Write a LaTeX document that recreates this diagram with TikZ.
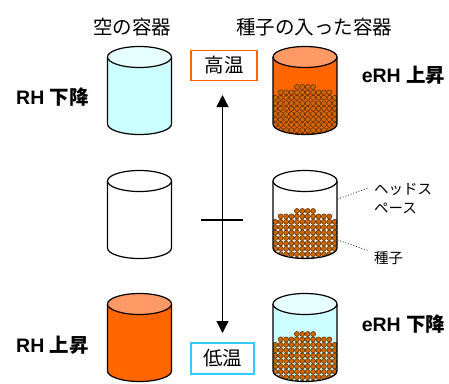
\documentclass[tikz,border=0pt]{standalone}
\usepackage{fontspec}
\setmainfont{Liberation Sans}
\newfontfamily\jp{Noto Sans CJK JP}
\usetikzlibrary{arrows.meta}

\definecolor{paleCyan}{HTML}{CCFFFF}
\definecolor{paleCyanTop}{HTML}{E6FFFF}
\definecolor{hotOrange}{HTML}{FF6600}
\definecolor{hotOrangeTop}{HTML}{FF9966}
\definecolor{seedBrown}{HTML}{CC6600}
\definecolor{seedEdge}{HTML}{4A2400}
\definecolor{coolBlue}{HTML}{33CCFF}

\tikzset{
  outline/.style={draw=black, line width=1.2pt},
  seed/.style={fill=seedBrown, draw=seedEdge, line width=0.45pt},
  heading/.style={font=\jp\fontsize{19.5}{22}\selectfont},
  rhlabel/.style={font=\bfseries\fontsize{19.5}{22}\selectfont},
  tempbox/.style={line width=1.5pt, inner sep=0pt, font=\jp\fontsize{19.5}{22}\selectfont},
  note/.style={font=\jp\fontsize{14.5}{19}\selectfont, align=left, anchor=west, inner sep=0pt},
  leader/.style={dotted, line width=0.8pt},
  axis/.style={line width=1.4pt}
}

% cylinder: #1 centre x, #2 centre y of the top ellipse
\newcommand\cylpath[2]{(#1-32,#2) -- (#1-32,#2+67)
  arc[start angle=180, end angle=0, x radius=32, y radius=10.5] -- (#1+32,#2) -- cycle}
\newcommand\cylbody[3]{\fill[#3] \cylpath{#1}{#2};}
\newcommand\cyledge[3]{%
  \draw[outline] (#1-32,#2) -- (#1-32,#2+67)
    arc[start angle=180, end angle=0, x radius=32, y radius=10.5] -- (#1+32,#2);
  \filldraw[outline, fill=#3] (#1,#2) ellipse[x radius=32, y radius=10.5];}

\newcommand\seedat[2]{\filldraw[seed] (#1,#2) circle[radius=2.55];}
% heap of seeds at the bottom of a cylinder
\newcommand\seedpile[2]{%
  \begin{scope}
    \clip \cylpath{#1}{#2};
    \foreach \k in {-1.5,-0.5,0.5,1.5} {\seedat{#1+\k*5.4}{#2+30}}
    \foreach \k in {-4.5,-3.5,...,4.5} {\seedat{#1+\k*5.4}{#2+35.4}}
    \foreach \r in {2,...,9} {
      \foreach \k in {-5.5,-4.5,...,5.5} {\seedat{#1+\k*5.4}{#2+30+\r*5.4}}}
  \end{scope}}

\begin{document}
\begin{tikzpicture}[x=1pt, y=-1pt]
  \useasboundingbox (0,0) rectangle (449,383);

  % column headings
  \node[heading] (hEmpty) at (132,27) {空の容器};
  \node[heading] (hSeed) at (314,27) {種子の入った容器};

  % empty containers
  \cylbody{139.5}{57}{paleCyan}   \cyledge{139.5}{57}{paleCyanTop}
  \cylbody{139.5}{181}{white}     \cyledge{139.5}{181}{white}
  \cylbody{139.5}{304}{hotOrange} \cyledge{139.5}{304}{hotOrangeTop}

  % containers holding seeds
  \cylbody{305}{57}{hotOrange} \seedpile{305}{57}  \cyledge{305}{57}{hotOrangeTop}
  \cylbody{305}{181}{white}    \seedpile{305}{181} \cyledge{305}{181}{white}
  \cylbody{305}{304}{paleCyan} \seedpile{305}{304} \cyledge{305}{304}{paleCyanTop}

  % humidity labels
  \node[rhlabel] (rhDown) at (52.5,97) {RH {\jp\bfseries 下降}};
  \node[rhlabel] (rhUp) at (52.5,345.5) {RH {\jp\bfseries 上昇}};
  \node[rhlabel] (erhUp) at (403.5,75.5) {eRH {\jp\bfseries 上昇}};
  \node[rhlabel] (erhDown) at (403.5,324.5) {eRH {\jp\bfseries 下降}};

  % temperature axis
  \node[tempbox, draw=hotOrange, minimum width=66pt, minimum height=30pt] (hot) at (224,65.5) {高温};
  \node[tempbox, draw=coolBlue, minimum width=63pt, minimum height=31pt] (cold) at (222.5,358.5) {低温};
  \coordinate (axTop) at (222.5,95);
  \coordinate (axBot) at (222.5,333);
  \coordinate (tickL) at (201,220);
  \coordinate (tickR) at (243,220);
  \draw[axis, {Triangle[width=12pt,length=12pt]}-{Triangle[width=12pt,length=12pt]}] (axTop) -- (axBot);
  \draw[axis] (tickL) -- (tickR);

  % headspace and seed callouts
  \node[note] (headspace) at (374,198.5) {ヘッドス\\ペース};
  \node[note] (seeds) at (374,258) {種子};
  \coordinate (hsPoint) at (337.5,199);
  \coordinate (hsEnd) at (368,188);
  \coordinate (sdPoint) at (337.5,240);
  \coordinate (sdEnd) at (368,250.5);
  \draw[leader] (hsPoint) -- (hsEnd);
  \draw[leader] (sdPoint) -- (sdEnd);
\end{tikzpicture}
\end{document}
